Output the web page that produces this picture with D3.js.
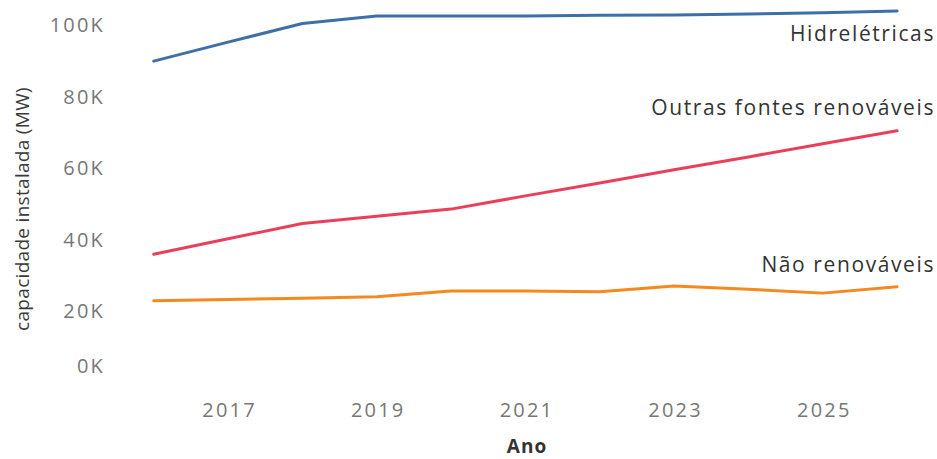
<!DOCTYPE html>
<html>
<head>
<meta charset="utf-8">
<script src="https://cdn.jsdelivr.net/npm/d3@7"></script>
<style>
  html, body { margin: 0; padding: 0; background: #fff; }
  svg { display: block; font-family: "Open Sans", "Noto Sans", sans-serif; }
</style>
</head>
<body>
<svg id="chart" width="937" height="459"></svg>
<script>
const years = [2016, 2017, 2018, 2019, 2020, 2021, 2022, 2023, 2024, 2025, 2026];
const hidreletricas = [89900, 95200, 100400, 102500, 102500, 102500, 102700, 102800, 103100, 103400, 103900];
const outrasRenovaveis = [35900, 40200, 44500, 46500, 48500, 52200, 55800, 59500, 63100, 66800, 70400];
const naoRenovaveis = [22900, 23200, 23600, 24000, 25600, 25600, 25400, 27000, 26100, 25000, 26800];
const seriesNames = ["Hidrelétricas", "Outras fontes renováveis", "Não renováveis"];
const seriesColors = ["#3d6fa8", "#ea3f5b", "#f5891d"];
const yTicks = [0, 20000, 40000, 60000, 80000, 100000];
const xTicks = [2017, 2019, 2021, 2023, 2025];

const seriesValues = [hidreletricas, outrasRenovaveis, naoRenovaveis];
const svg = d3.select("#chart");

const x = d3.scaleLinear().domain([2016, 2026]).range([153.7, 897.1]);
const y = d3.scaleLinear().domain([20000, 100000]).range([311, 25]);
const yBottom = 366;

// Y axis
const yAxis = svg.append("g")
  .attr("transform", "translate(105,0)")
  .call(d3.axisLeft(y).tickValues(yTicks).tickSize(0).tickPadding(0)
    .tickFormat(d => d3.format("d")(d / 1000) + "K"));
yAxis.select(".domain").remove();
yAxis.selectAll(".tick")
  .attr("transform", d => `translate(0,${Math.min(y(d), yBottom)})`);
yAxis.selectAll("text")
  .attr("fill", "#777")
  .attr("font-size", "20px")
  .attr("letter-spacing", "2.2px")
  .attr("dy", "0.35em")
  .style("font-family", "'Open Sans', sans-serif");

// X axis
const xAxis = svg.append("g")
  .attr("transform", "translate(1,410)")
  .call(d3.axisBottom(x).tickValues(xTicks).tickSize(0).tickPadding(0)
    .tickFormat(d3.format("d")));
xAxis.select(".domain").remove();
xAxis.selectAll("text")
  .attr("fill", "#777")
  .attr("font-size", "20px")
  .attr("letter-spacing", "2.2px")
  .attr("dy", "0.35em")
  .style("font-family", "'Open Sans', sans-serif");

// Axis titles
svg.append("text")
  .attr("transform", "translate(22,209) rotate(-90)")
  .attr("text-anchor", "middle")
  .attr("dy", "0.35em")
  .attr("fill", "#3a3a3a")
  .attr("font-size", "19px")
  .attr("letter-spacing", "0.3px")
  .text("capacidade instalada (MW)");

svg.append("text")
  .attr("x", 527)
  .attr("y", 446)
  .attr("text-anchor", "middle")
  .attr("dy", "0.35em")
  .attr("fill", "#333")
  .attr("font-size", "19px")
  .attr("letter-spacing", "1px")
  .attr("font-weight", "bold")
  .text("Ano");

// Lines
const line = d3.line()
  .x((d, i) => x(years[i]))
  .y(d => y(d));

seriesValues.forEach((vals, s) => {
  svg.append("path")
    .datum(vals)
    .attr("fill", "none")
    .attr("stroke", seriesColors[s])
    .attr("stroke-width", 3)
    .attr("stroke-linejoin", "round")
    .attr("stroke-linecap", "round")
    .attr("d", line);
});

// Series labels
const labelY = [34, 108, 265];
seriesNames.forEach((name, s) => {
  svg.append("text")
    .attr("x", 935)
    .attr("y", labelY[s])
    .attr("text-anchor", "end")
    .attr("dy", "0.35em")
    .attr("fill", "#333")
    .attr("font-size", "21px")
    .attr("letter-spacing", "1.6px")
    .text(name);
});
</script>
</body>
</html>
